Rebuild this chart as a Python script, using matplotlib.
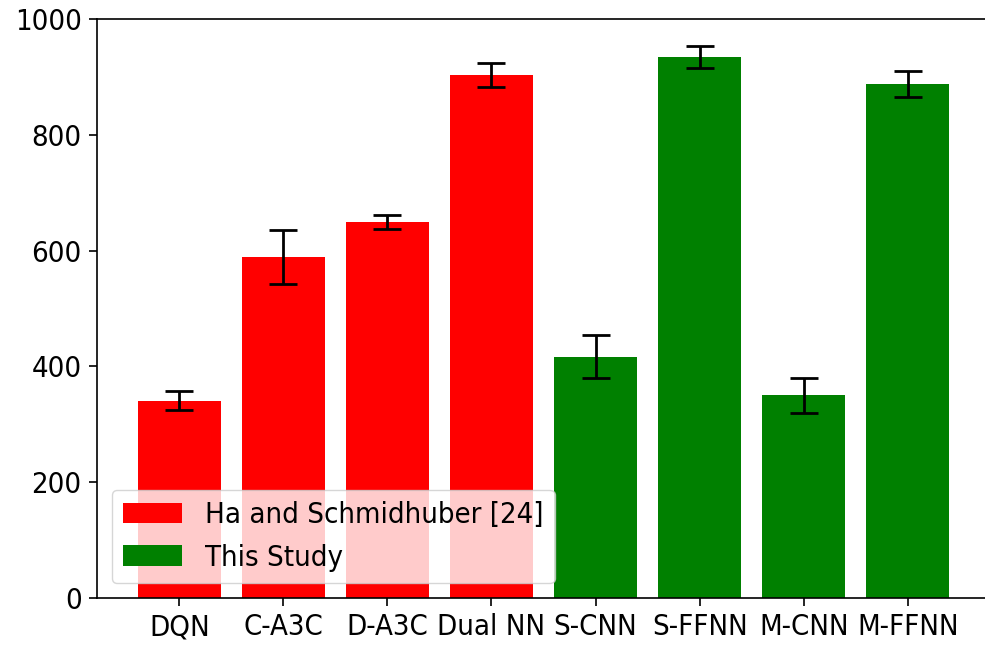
import matplotlib
matplotlib.use("Agg")
import matplotlib.pyplot as plt
import numpy as np

plt.rcParams["font.family"] = ["DejaVu Sans"]
plt.rcParams["font.stretch"] = "condensed"

categories = ["DQN", "C-A3C", "D-A3C", "Dual NN", "S-CNN", "S-FFNN", "M-CNN", "M-FFNN"]
values = [341, 589, 650, 903, 417, 934, 350, 888]
errors = [16, 46, 12, 21, 37, 19, 30, 23]
groups = ["Ha and Schmidhuber [24]"] * 4 + ["This Study"] * 4
group_colors = {"Ha and Schmidhuber [24]": "red", "This Study": "green"}

fig = plt.figure(figsize=(9.85, 6.49), dpi=100)
ax = fig.add_axes([97 / 985, 1 - 598 / 649, (990 - 97) / 985, (598 - 19) / 649])

x = np.arange(len(categories))
for grp in ["Ha and Schmidhuber [24]", "This Study"]:
    idx = [i for i, g in enumerate(groups) if g == grp]
    ax.bar(x[idx], [values[i] for i in idx], width=0.8,
           yerr=[errors[i] for i in idx], capsize=10,
           color=group_colors[grp], label=grp,
           error_kw=dict(elinewidth=2, capthick=2, ecolor="black"))

fs = 21
ax.set_xticks(x)
ax.set_xticklabels(categories, fontsize=fs)
ax.set_ylim(0, 1000)
ax.set_xlim(-0.79, 7.79)
ax.tick_params(axis="y", labelsize=fs)
ax.tick_params(length=6, width=1.2, pad=5)
for s in ax.spines.values():
    s.set_linewidth(1.2)
ax.legend(loc="lower left", fontsize=fs)

fig.savefig("out.png", dpi=100)
